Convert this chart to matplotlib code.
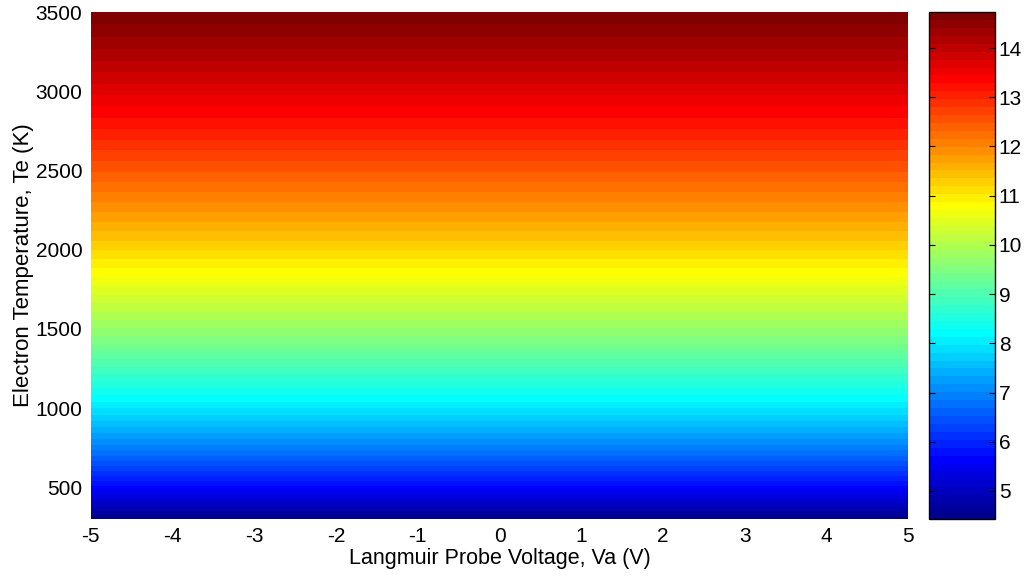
import matplotlib
matplotlib.use('Agg')
import matplotlib.pyplot as plt
import numpy as np
from matplotlib.colors import ListedColormap

plt.rcParams['font.family'] = ['Liberation Sans', 'DejaVu Sans']
plt.rcParams['font.size'] = 15
plt.rcParams['axes.unicode_minus'] = False

# probe voltage sweep (V)
va = [-5, -4, -3, -2, -1, 0, 1, 2, 3, 4, 5]
# electron temperature rows (K)
te = [300, 500, 750, 1000, 1250, 1500, 1750, 2000, 2250, 2500, 2750, 3000, 3250, 3500]
# mapped quantity for each temperature row (same across voltage)
vals = [4.43, 5.68, 6.93, 7.98, 8.90, 9.73, 10.49, 11.20, 11.87, 12.50, 13.09, 13.66, 14.21, 14.73]
cbar_ticks = [5, 6, 7, 8, 9, 10, 11, 12, 13, 14]


def jet64(m=64):
    # 64-step jet, built the same way as the classic MATLAB table
    n = int(np.ceil(m / 4))
    u = np.concatenate([np.arange(1, n + 1) / n, np.ones(n - 1), np.arange(n, 0, -1) / n])
    g = int(np.ceil(n / 2)) - (m % 4 == 1) + np.arange(1, len(u) + 1)
    r = g + n
    b = g - n
    J = np.zeros((m, 3))
    J[r[r <= m] - 1, 0] = u[r <= m]
    J[g[g <= m] - 1, 1] = u[g <= m]
    J[b[b >= 1] - 1, 2] = u[b >= 1]
    return ListedColormap(J)


Z = np.tile(np.array(vals)[:, None], (1, len(va)))
levels = np.linspace(min(vals), max(vals), 65)

fig = plt.figure(figsize=(10.26, 5.76), dpi=100)
ax = fig.add_axes([0.0884, 0.099, 0.797, 0.880])
cax = fig.add_axes([0.9055, 0.099, 0.064, 0.880])

cs = ax.contourf(va, te, Z, levels=levels, cmap=jet64())
ax.set_xlim(-5, 5)
ax.set_ylim(300, 3500)
ax.set_xticks(range(-5, 6))
ax.set_yticks(range(500, 3501, 500))
for s in ax.spines.values():
    s.set_visible(False)
ax.tick_params(length=0, pad=6)
ax.set_xlabel('Langmuir Probe Voltage, Va (V)', fontsize=15.5, labelpad=1)
ax.set_ylabel('Electron Temperature, Te (K)', fontsize=16, labelpad=1)

cb = fig.colorbar(cs, cax=cax, ticks=cbar_ticks)
cb.outline.set_linewidth(1.0)
cax.tick_params(direction='in', left=True, right=True, length=4, width=0.8, pad=3)

fig.savefig('out.png', dpi=100)
